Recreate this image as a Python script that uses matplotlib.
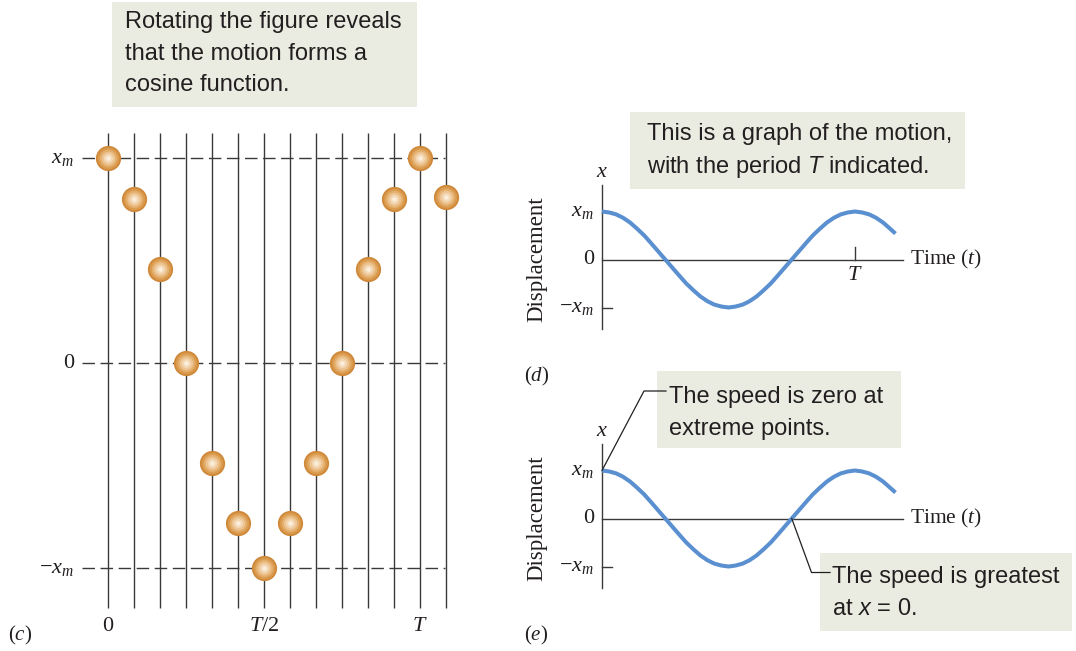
import matplotlib
matplotlib.use("Agg")
import matplotlib.pyplot as plt
from matplotlib.patches import Rectangle

plt.rcParams["mathtext.fontset"] = "custom"
plt.rcParams["mathtext.rm"] = "Liberation Serif"
plt.rcParams["mathtext.it"] = "Liberation Serif:italic"
plt.rcParams["mathtext.bf"] = "Liberation Sans:italic"   # used for the italic symbols in the notes
plt.rcParams["mathtext.sf"] = "Liberation Sans"

W, H = 1076, 651

# panel (c): one ball per vertical line, position in units of x_m
steps = [0, 1, 2, 3, 4, 5, 6, 7, 8, 9, 10, 11, 12, 13]
ball_x = [1.0, 0.80, 0.46, 0.0, -0.49, -0.78, -1.0, -0.78, -0.49, 0.0, 0.46, 0.80, 1.0, 0.81]
levels = [1, 0, -1]
level_labels = ["$x_m$", "0", "$-x_m$"]
time_ticks = [0, 6, 12]
time_labels = ["0", "$T/2$", "$T$"]

# panels (d) and (e): displacement vs time (time in units of T)
curve_t = [0, 0.028, 0.056, 0.083, 0.111, 0.139, 0.167, 0.194, 0.222, 0.25,
           0.278, 0.306, 0.333, 0.361, 0.389, 0.417, 0.444, 0.472, 0.5, 0.528,
           0.556, 0.583, 0.611, 0.639, 0.667, 0.694, 0.722, 0.75, 0.778, 0.806,
           0.833, 0.861, 0.889, 0.917, 0.944, 0.972, 1.0, 1.028, 1.056, 1.083,
           1.111, 1.139, 1.16]
curve_x = [1.0, 0.98, 0.94, 0.87, 0.77, 0.64, 0.5, 0.34, 0.17, 0.0,
           -0.17, -0.34, -0.5, -0.64, -0.77, -0.87, -0.94, -0.98, -1.0, -0.98,
           -0.94, -0.87, -0.77, -0.64, -0.5, -0.34, -0.17, 0.0, 0.17, 0.34,
           0.5, 0.64, 0.77, 0.87, 0.94, 0.98, 1.0, 0.98, 0.94, 0.87,
           0.77, 0.64, 0.54]

INK = "#231f20"
BOX = "#ebece1"
BLUE = "#5a8fd0"
SANS = "Liberation Sans"
SERIF = "Liberation Serif"


def panel_axes(fig, box, origin, scale):
    # box = (left, top, right, bottom) in pixels, origin = pixel of data (0, 0)
    l, t, r, b = box
    ax = fig.add_axes([l / W, 1 - b / H, (r - l) / W, (b - t) / H])
    ax.set_xlim((l - origin[0]) / scale[0], (r - origin[0]) / scale[0])
    ax.set_ylim((origin[1] - b) / scale[1], (origin[1] - t) / scale[1])
    ax.axis("off")
    ax.set_facecolor("none")
    return ax


def to_px(ax, x, y):
    px, py = ax.transData.transform((x, y))
    return px, H - py


fig = plt.figure(figsize=(W / 100, H / 100), dpi=100)

# ---------------- (c) ----------------
axc = panel_axes(fig, (0, 110, 480, 651), (108, 363), (26, 205))
axc.vlines(steps, -1.197, 1.122, color="#3a3a3a", lw=1.0, zorder=1)
axc.hlines(levels, -1.0, 12.96, color="#3a3a3a", lw=1.0,
           linestyles=(0, (9, 4)), zorder=1)

# shaded balls, built from concentric discs
shades = [(1.0, "#cf8838"), (0.86, "#da9a4e"), (0.7, "#e4ae6b"),
          (0.54, "#edc493"), (0.36, "#f4d9b6"), (0.18, "#faeedd")]
for frac, col in shades:
    axc.scatter(steps, ball_x, s=330 * frac ** 2, color=col, lw=0, zorder=3)

for lv, lab in zip(levels, level_labels):
    axc.text(-1.31, lv, lab, ha="right", va="center", fontsize=16,
             family=SERIF, color=INK)
for tk, lab in zip(time_ticks, time_labels):
    axc.text(tk, -1.283, lab, ha="center", va="center", fontsize=16,
             family=SERIF, color=INK)
axc.text(-3.38, -1.33, "$(c)$", ha="center", va="center", fontsize=15,
         family=SERIF, color=INK)

# ---------------- (d) and (e) ----------------
axd = panel_axes(fig, (500, 120, 1076, 392), (602, 259.5), (253, 48))
axe = panel_axes(fig, (500, 400, 1076, 651), (602, 518.5), (253, 48))

for ax, tag, show_T in [(axd, "$(d)$", True), (axe, "$(e)$", False)]:
    ax.plot([0, 0], [-1.45, 1.56], color="#3a3a3a", lw=1.0, zorder=1)
    ax.plot([0, 1.19], [0, 0], color="#3a3a3a", lw=1.0, zorder=1)
    ax.plot([0, 0.04], [-1, -1], color="#3a3a3a", lw=1.0)
    ax.plot([0, 0.04], [1, 1], color="#3a3a3a", lw=1.0)
    ax.plot(curve_t, curve_x, color=BLUE, lw=2.9, solid_capstyle="butt",
            solid_joinstyle="round", zorder=2)
    for lv, lab in zip(levels, level_labels):
        ax.text(-0.032, lv, lab, ha="right", va="center", fontsize=16,
                family=SERIF, color=INK)
    ax.text(0, 1.82, "$x$", ha="center", va="center", fontsize=16,
            family=SERIF, color=INK)
    ax.text(1.217, 0, "Time $(t)$", ha="left", va="center", fontsize=15.5,
            family=SERIF, color=INK)
    ax.text(-0.257, 0, "Displacement", rotation=90, ha="center", va="center",
            fontsize=16.5, family=SERIF, color=INK)
    ax.text(-0.26, -2.43, tag, ha="center", va="center", fontsize=15,
            family=SERIF, color=INK)
    if show_T:
        ax.plot([1, 1], [0, 0.26], color="#3a3a3a", lw=1.0)
        ax.text(1, -0.33, "$T$", ha="center", va="center", fontsize=16,
                family=SERIF, color=INK)

# ---------------- notes ----------------
ov = fig.add_axes([0, 0, 1, 1])
ov.set_xlim(0, W)
ov.set_ylim(H, 0)
ov.axis("off")
ov.set_facecolor("none")

notes = [
    ((112, 2, 417, 107), 125, 28, 31.5,
     ["Rotating the figure reveals", "that the motion forms a", "cosine function."]),
    ((630, 112, 965, 189), 647, 140, 32.5,
     ["This is a graph of the motion,", "with the period $\\mathbf{T}$ indicated."]),
    ((657, 371, 901, 448), 669, 403, 32.5,
     ["The speed is zero at", "extreme points."]),
    ((820, 553, 1072, 631), 832, 582.5, 32.5,
     ["The speed is greatest", "at $\\mathbf{x}$ = 0."]),
]
for (l, t, r, b), tx, ty, step, lines in notes:
    ov.add_patch(Rectangle((l, t), r - l, b - t, facecolor=BOX, edgecolor="none", zorder=1))
    for i, line in enumerate(lines):
        ov.text(tx, ty + i * step, line, ha="left", va="baseline", fontsize=17,
                family=SANS, color=INK, zorder=3)

# leader lines from the curve in (e) to the notes
x0, y0 = to_px(axe, 0, 1)
ov.plot([x0, 644, 666], [y0, 391, 391], color=INK, lw=0.9, zorder=4)
x1, y1 = to_px(axe, 0.75, 0)
ov.plot([x1, 811.5, 830], [y1, 572.5, 572.5], color=INK, lw=0.9, zorder=4)

fig.savefig("out.png", dpi=100)
